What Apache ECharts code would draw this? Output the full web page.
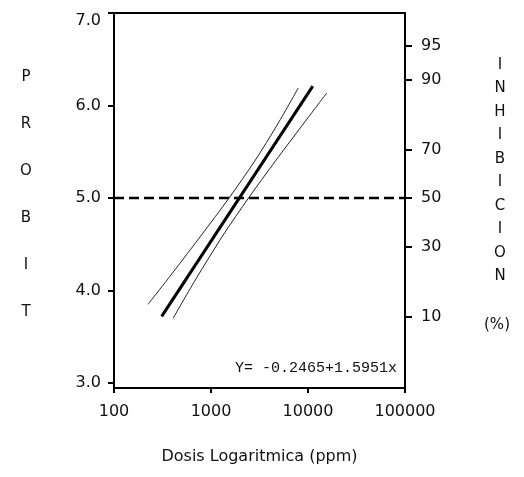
<!DOCTYPE html>
<html><head><meta charset="utf-8">
<script src="https://cdn.jsdelivr.net/npm/echarts@6/dist/echarts.min.js"></script>
<style>html,body{margin:0;padding:0;background:#fff}#c{width:524px;height:477px}</style>
</head><body><div id="c"></div>
<script>
// ---- data ----
const xTicks = [100, 1000, 10000, 100000];
const probitTicks = [3, 4, 5, 6, 7];
const pctLabels = ['10', '30', '50', '70', '90', '95'];
const pctProbits = [3.718, 4.476, 5.0, 5.524, 6.282, 6.645];
const fitLine = [[310, 3.72], [11200, 6.21]];
const lowerDoseLimit = [[224, 3.85], [408, 4.2], [798, 4.6], [1535, 5.0], [2825, 5.4], [4875, 5.8], [7943, 6.19]];
const upperDoseLimit = [[407, 3.70], [677, 4.1], [1336, 4.6], [2438, 5.0], [4617, 5.4], [8933, 5.8], [15600, 6.135]];
const refLine = [[100, 5], [100000, 5]];
const eqText = 'Y= -0.2465+1.5951x';
const leftTitle = 'PROBIT';
const rightTitle = 'INHIBICION';
const rightUnit = '(%)';
const xTitle = 'Dosis Logaritmica (ppm)';

const FONT = 'DejaVu Sans';
const chart = echarts.init(document.getElementById('c'));

const graphics = [];
leftTitle.split('').forEach((ch, i) => {
  graphics.push({type: 'text', x: 26, y: 77 + i * 47,
    style: {text: ch, font: '15px "DejaVu Sans"', fill: '#111', align: 'center', verticalAlign: 'middle'}});
});
rightTitle.split('').forEach((ch, i) => {
  graphics.push({type: 'text', x: 500, y: 65 + i * 23.5,
    style: {text: ch, font: '15px "DejaVu Sans"', fill: '#111', align: 'center', verticalAlign: 'middle'}});
});
graphics.push({type: 'text', x: 497, y: 325,
  style: {text: rightUnit, font: '15px "DejaVu Sans"', fill: '#111', align: 'center', verticalAlign: 'middle'}});
graphics.push({type: 'text', x: 397, y: 368,
  style: {text: eqText, font: '15px "Liberation Mono"', fill: '#111', align: 'right', verticalAlign: 'middle'}});

const axisBase = {
  axisLine: {show: true, lineStyle: {color: '#000', width: 2}},
  splitLine: {show: false},
};

chart.setOption({
  animation: false,
  backgroundColor: '#fff',
  grid: {left: 114, right: 119, top: 13, bottom: 89, show: true, borderColor: '#000', borderWidth: 2},
  xAxis: Object.assign({}, axisBase, {
    type: 'log', logBase: 10, min: 100, max: 100000,
    name: xTitle, nameLocation: 'middle', nameGap: 61,
    nameTextStyle: {fontFamily: FONT, fontSize: 16, color: '#111'},
    axisTick: {show: true, length: 5, inside: false, lineStyle: {color: '#000', width: 2}},
    axisLabel: {margin: 16, fontFamily: FONT, fontSize: 16, color: '#111',
      customValues: xTicks, formatter: v => String(Math.round(v))},
    minorTick: {show: false}
  }),
  yAxis: [
    Object.assign({}, axisBase, {
      type: 'value', position: 'left', min: 2.946, max: 7,
      axisTick: {show: true, length: 6, customValues: probitTicks, lineStyle: {color: '#000', width: 2}},
      axisLabel: {margin: 13, fontFamily: FONT, fontSize: 16, color: '#111',
        verticalAlignMaxLabel: 'top',
        customValues: probitTicks, formatter: v => v.toFixed(1)}
    }),
    Object.assign({}, axisBase, {
      type: 'value', position: 'right', min: 2.946, max: 7,
      axisTick: {show: true, length: 7, customValues: pctProbits, lineStyle: {color: '#000', width: 2}},
      axisLabel: {margin: 16, fontFamily: FONT, fontSize: 16, color: '#111',
        customValues: pctProbits, formatter: v => {
          const i = pctProbits.findIndex(p => Math.abs(p - v) < 1e-6);
          return i >= 0 ? pctLabels[i] : '';
        }}
    })
  ],
  series: [
    {type: 'line', data: refLine, symbol: 'none', silent: true,
      lineStyle: {color: '#000', width: 2.5, type: [10, 5]}},
    {type: 'line', data: lowerDoseLimit, symbol: 'none', smooth: 0.3,
      lineStyle: {color: '#222', width: 1}},
    {type: 'line', data: upperDoseLimit, symbol: 'none', smooth: 0.3,
      lineStyle: {color: '#222', width: 1}},
    {type: 'line', data: fitLine, symbol: 'none',
      lineStyle: {color: '#000', width: 3}}
  ],
  graphic: graphics
});
</script>
</body></html>
